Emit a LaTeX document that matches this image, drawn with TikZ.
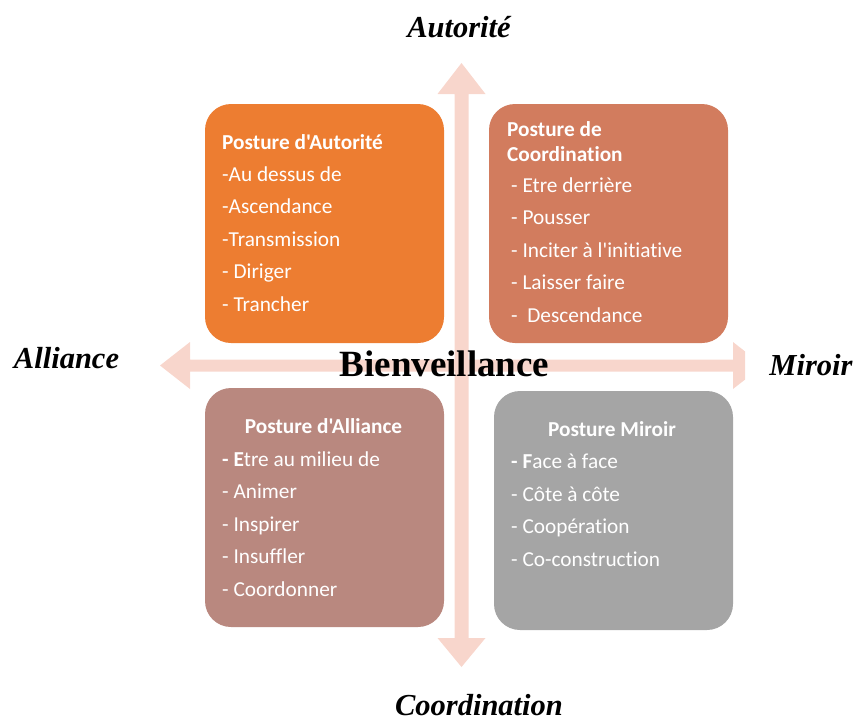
\documentclass[tikz,border=0pt]{standalone}
\usepackage{fontspec}
\setmainfont{Liberation Serif}
\newfontfamily\boxfont[RawFeature={-liga;-clig;-calt;-dlig}]{Carlito}
\definecolor{arrowpink}{HTML}{F8D6CC}
\definecolor{boxorange}{HTML}{ED7D31}
\definecolor{boxterra}{HTML}{D27C5E}
\definecolor{boxrose}{HTML}{B9887F}
\definecolor{boxgray}{HTML}{A5A5A5}
\begin{document}
\begin{tikzpicture}[x=1pt,y=-1pt,
  quad/.style={rectangle, rounded corners=26pt, minimum width=239pt, minimum height=239pt, inner sep=0pt, draw=none},
  item/.style={anchor=base west, inner sep=0pt, text=white, font=\boxfont\fontsize{21.3}{25}\selectfont},
  head/.style={item, font=\boxfont\bfseries\fontsize{21.3}{25}\selectfont},
  axislabel/.style={anchor=base, inner sep=0pt, font=\bfseries\itshape\fontsize{30.5}{34}\selectfont}]
\useasboundingbox (0,0) rectangle (855,721);
% axes (arrows drawn as shapes)
\fill[arrowpink] (454.5,94) -- (437.5,94) -- (461.5,63) -- (485.5,94) -- (468.5,94)
  -- (468.5,638) -- (485.5,638) -- (461.5,667) -- (437.5,638) -- (454.5,638) -- cycle;
\fill[arrowpink] (190,359.5) -- (190,342) -- (160,365.5) -- (190,389) -- (190,371.5)
  -- (733,371.5) -- (733,389) -- (745,379.6) -- (745,351.4) -- (733,342) -- (733,359.5) -- cycle;
% boxes
\node[quad, fill=boxorange] (tl) at (324.5,223.5) {};
\node[quad, fill=boxterra] (tr) at (608.5,223.5) {};
\node[quad, fill=boxrose] (bl) at (324.5,507.5) {};
\node[quad, fill=boxgray] (br) at (613.5,510.5) {};
% top-left text
\node[head] (tl0) at (222,149) {Posture d'Autorité};
\node[item] (tl1) at (222,181) {-Au dessus de};
\node[item] (tl2) at (222,213.5) {-Ascendance};
\node[item] (tl3) at (222,246) {-Transmission};
\node[item] (tl4) at (222,278.5) {- Diriger};
\node[item] (tl5) at (222,311) {- Trancher};
% top-right text
\node[head] (tr0) at (507,136) {Posture de};
\node[head] (tr0b) at (507,161) {Coordination};
\node[item] (tr1) at (511,192) {- Etre derrière};
\node[item] (tr2) at (511,224.6) {- Pousser};
\node[item] (tr3) at (511,257.2) {- Inciter à l'initiative};
\node[item] (tr4) at (511,289.8) {- Laisser faire};
\node[item] (tr5) at (511,322.4) {-\ \ Descendance};
% bottom-left text
\node[head, anchor=base] (bl0) at (323.5,433) {Posture d'Alliance};
\node[item] (bl1) at (222,466) {\textbf{- E}tre au milieu de};
\node[item] (bl2) at (222,498.6) {- Animer};
\node[item] (bl3) at (222,531.2) {- Inspirer};
\node[item] (bl4) at (222,563.8) {- Insuffler};
\node[item] (bl5) at (222,596.4) {- Coordonner};
% bottom-right text
\node[head, anchor=base] (br0) at (612,436.7) {Posture Miroir};
\node[item] (br1) at (511,468.5) {\textbf{- F}ace à face};
\node[item] (br2) at (511,501) {- Côte à côte};
\node[item] (br3) at (511,533.5) {- Coopération};
\node[item] (br4) at (511,566) {- Co-construction};
% labels
\node[axislabel] (aut) at (459,37) {Autorité};
\node[axislabel] (all) at (66.5,368) {Alliance};
\node[axislabel] (mir) at (811,375) {Miroir};
\node[axislabel] (coo) at (479,715.5) {Coordination};
\node[anchor=base, inner sep=0pt, font=\bfseries\fontsize{37}{40}\selectfont] (bien) at (444.5,376) {Bienveillance};
\end{tikzpicture}
\end{document}
